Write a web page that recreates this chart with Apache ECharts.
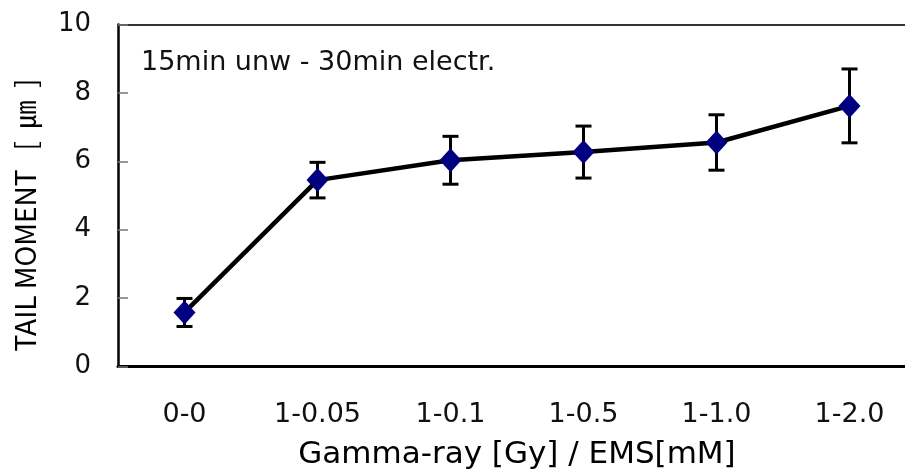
<!DOCTYPE html>
<html><head><meta charset="utf-8">
<script src="https://cdn.jsdelivr.net/npm/echarts@6/dist/echarts.min.js"></script>
<style>html,body{margin:0;padding:0;background:#fff}#c{width:905px;height:469px}</style>
</head><body><div id="c"></div>
<script>
const categories = ["0-0", "1-0.05", "1-0.1", "1-0.5", "1-1.0", "1-2.0"];
const tailMoment = [1.58, 5.45, 6.03, 6.27, 6.55, 7.62];
const errorSize = [0.41, 0.52, 0.70, 0.76, 0.81, 1.08];
const yTicks = [0, 2, 4, 6, 8, 10];

const chart = echarts.init(document.getElementById('c'), null, {renderer: 'canvas'});
const errData = categories.map((c, i) => [i, tailMoment[i] - errorSize[i], tailMoment[i] + errorSize[i]]);

chart.setOption({
  animation: false,
  backgroundColor: '#fff',
  grid: {left: 118, top: 24.5, width: 798, height: 342, containLabel: false, outerBoundsMode: 'none'},
  xAxis: [{
    type: 'category', data: categories, boundaryGap: true,
    axisLine: {onZero: false, lineStyle: {color: '#000', width: 3}},
    axisTick: {inside: true, length: 10, lineStyle: {color: '#777', width: 1.5}},
    axisLabel: {margin: 35, color: '#111', fontSize: 27, fontFamily: 'DejaVu Sans'},
    name: 'Gamma-ray [Gy] / EMS[mM]', nameLocation: 'middle', nameGap: 73,
    nameTextStyle: {color: '#000', fontSize: 31, fontFamily: 'DejaVu Sans'}
  }, {
    type: 'category', data: categories, position: 'top',
    axisLine: {onZero: false, lineStyle: {color: '#333', width: 2}},
    axisTick: {show: false}, axisLabel: {show: false}
  }],
  yAxis: {
    type: 'value', min: 0, max: 10, interval: 2,
    axisLine: {show: true, onZero: false, lineStyle: {color: '#000', width: 2.5}},
    axisTick: {show: true, inside: true, length: 10, lineStyle: {color: '#777', width: 1.5}},
    splitLine: {show: false},
    axisLabel: {margin: 27, color: '#111', fontSize: 26, fontFamily: 'DejaVu Sans',
      formatter: v => yTicks.includes(v) ? String(v) : ''}
  },
  graphic: [{
    type: 'text', left: 141, top: 49,
    style: {text: '15min unw - 30min electr.', fontSize: 27, fontFamily: 'DejaVu Sans', fill: '#111'}
  }, {
    type: 'text', x: 25, y: 215, rotation: Math.PI / 2,
    style: {text: 'TAIL MOMENT   [  ㎛  ]', fontSize: 28, fontFamily: 'Noto Sans CJK KR', fill: '#000',
      align: 'center', verticalAlign: 'middle'}
  }],
  series: [{
    type: 'custom',
    data: errData,
    z: 3,
    renderItem: function (params, api) {
      const x = api.value(0);
      const lo = api.coord([x, api.value(1)]);
      const hi = api.coord([x, api.value(2)]);
      const cap = 8;
      const st = {stroke: '#000', lineWidth: 3};
      return {type: 'group', children: [
        {type: 'line', shape: {x1: lo[0], y1: lo[1], x2: hi[0], y2: hi[1]}, style: st},
        {type: 'line', shape: {x1: lo[0] - cap, y1: lo[1], x2: lo[0] + cap, y2: lo[1]}, style: st},
        {type: 'line', shape: {x1: hi[0] - cap, y1: hi[1], x2: hi[0] + cap, y2: hi[1]}, style: st}
      ]};
    }
  }, {
    type: 'line', data: tailMoment, z: 4,
    symbol: 'diamond', symbolSize: [22, 24],
    itemStyle: {color: '#000080'},
    lineStyle: {color: '#000', width: 4.5}
  }]
});
</script></body></html>
